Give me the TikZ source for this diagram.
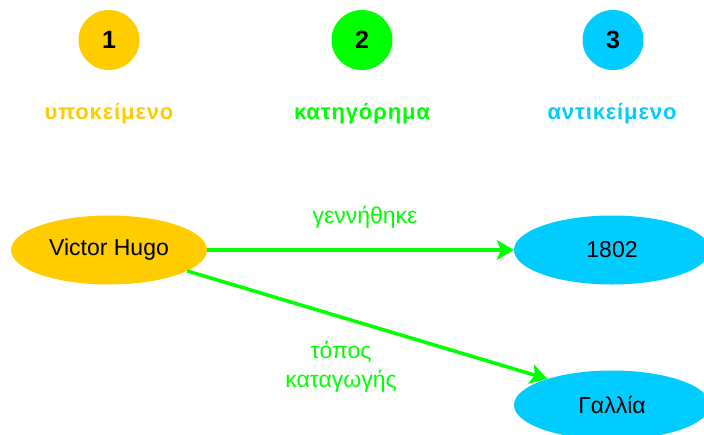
\documentclass[tikz,border=0pt]{standalone}
\usepackage{fontspec}
\setmainfont{Liberation Sans}
\usetikzlibrary{shapes.geometric,arrows.meta}
\definecolor{cOrange}{HTML}{FFCC00}
\definecolor{cGreen}{HTML}{00FF00}
\definecolor{cCyan}{HTML}{00CCFF}
\tikzset{
  numdot/.style={ellipse,minimum width=61pt,minimum height=60pt,inner sep=0pt,font=\fontsize{25}{27}\selectfont\bfseries},
  head/.style={font=\fontsize{22}{26}\selectfont\bfseries\addfontfeature{LetterSpace=4}},
  bigoval/.style={ellipse,minimum width=196pt,minimum height=69pt,inner sep=0pt,font=\fontsize{23}{26}\selectfont},
  rel/.style={draw=cGreen,line width=3.5pt,-{Stealth[length=17pt,width=20pt,inset=4pt]}},
  rellabel/.style={text=cGreen,font=\fontsize{23}{29}\selectfont,align=center,inner sep=0pt}
}
\begin{document}
\begin{tikzpicture}[x=1pt,y=-1pt]
\useasboundingbox (0,0) rectangle (704,434);
\node[numdot,fill=cOrange] (n1) at (109,40) {1};
\node[numdot,fill=cGreen] (n2) at (362,40) {2};
\node[numdot,fill=cCyan] (n3) at (613,40) {3};
\node[head,text=cOrange] (h1) at (109,114) {υποκείμενο};
\node[head,text=cGreen] (h2) at (362,114) {κατηγόρημα};
\node[head,text=cCyan] (h3) at (612,114) {αντικείμενο};
\node[bigoval,fill=cOrange] (vh) at (109,250) {Victor Hugo};
\node[bigoval,fill=cCyan] (y) at (612,250) {1802};
\node[bigoval,fill=cCyan] (g) at (612,405) {Γαλλία};
\draw[rel] (vh.east) -- (y.west);
\draw[rel] (vh.-15) -- (g.158);
\node[rellabel] (l1) at (365,217) {γεννήθηκε};
\node[rellabel] (l2) at (341,367) {τόπος\\καταγωγής};
\end{tikzpicture}
\end{document}
